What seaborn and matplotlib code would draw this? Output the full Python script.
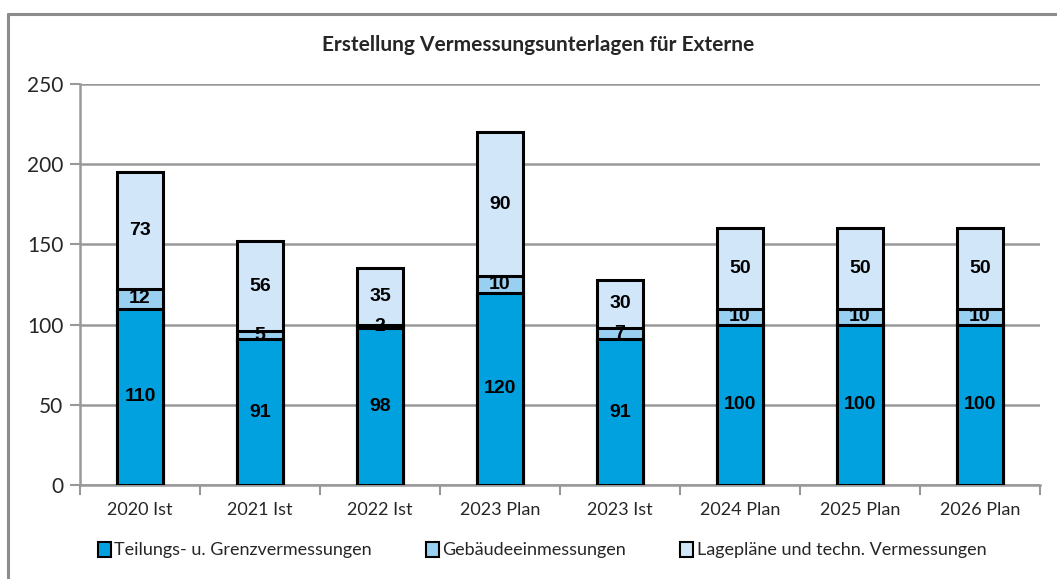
import matplotlib
matplotlib.use("Agg")
import matplotlib.pyplot as plt
import seaborn as sns
import pandas as pd
import numpy as np
from matplotlib.patches import Patch
from matplotlib.lines import Line2D

categories = ["2020 Ist", "2021 Ist", "2022 Ist", "2023 Plan", "2023 Ist", "2024 Plan", "2025 Plan", "2026 Plan"]
teilung = [110, 91, 98, 120, 91, 100, 100, 100]
gebaeude = [12, 5, 2, 10, 7, 10, 10, 10]
lageplaene = [73, 56, 35, 90, 30, 50, 50, 50]
series_names = ["Teilungs- u. Grenzvermessungen", "Gebäudeeinmessungen", "Lagepläne und techn. Vermessungen"]
colors = ["#00A1DE", "#99CFF0", "#D1E7F9"]

sns.set_theme(style="white")
plt.rcParams['font.family'] = ['Lato', 'DejaVu Sans']

df = pd.DataFrame({"cat": categories, "a": teilung, "b": gebaeude, "c": lageplaene})
df["ab"] = df["a"] + df["b"]
df["abc"] = df["ab"] + df["c"]

fig = plt.figure(figsize=(10.57, 5.79), dpi=100)
ax = fig.add_axes([80/1057, 1-485/579, 960/1057, 401/579])

w = 0.39
for col, c in [("abc", colors[2]), ("ab", colors[1]), ("a", colors[0])]:
    sns.barplot(data=df, x="cat", y=col, color=c, width=w, edgecolor="black",
                linewidth=2.2, saturation=1, ax=ax, zorder=3)

ax.set_ylim(0, 250)
ax.set_xlim(-0.5, len(categories)-0.5)
ax.set_yticks([0, 50, 100, 150, 200, 250])
ax.yaxis.grid(True, color="#999999", linewidth=1.8, zorder=0)
ax.set_axisbelow(True)
ax.set_xlabel("")
ax.set_ylabel("")
for s in ["top", "right"]:
    ax.spines[s].set_visible(False)
for s in ["left", "bottom"]:
    ax.spines[s].set_color("#999999")
    ax.spines[s].set_linewidth(1.8)
ax.tick_params(axis="y", which="major", left=True, length=7, width=1.5, color="#999999", labelsize=15, pad=5)
ax.tick_params(axis="x", which="major", bottom=False, labelsize=13, pad=6)
ax.set_xticks(np.arange(-0.5, len(categories)), minor=True)
ax.tick_params(axis="x", which="minor", bottom=True, length=7, width=1.5, color="#999999")

x = np.arange(len(categories))
for i in range(len(categories)):
    a, b, c = teilung[i], gebaeude[i], lageplaene[i]
    kw = dict(ha="center", va="center", fontsize=14, fontweight="bold",
              family="Liberation Sans", color="black", zorder=5)
    ax.text(x[i], a/2, str(a), **kw)
    ax.text(x[i], a + b/2, str(b), **kw)
    ax.text(x[i], a + b + c/2, str(c), **kw)

fig.text(0.509, 1-45/579, "Erstellung Vermessungsunterlagen für Externe", ha="center", va="center",
         fontsize=15, fontweight="bold")

# outer chart border
fig.add_artist(Line2D([8/1057, 8/1057], [0, 1-14/579], transform=fig.transFigure, color="#8c8c8c", lw=2.2))
fig.add_artist(Line2D([8/1057, 1], [1-14/579, 1-14/579], transform=fig.transFigure, color="#8c8c8c", lw=2.2))

handles = [Patch(facecolor=colors[k], edgecolor="black", linewidth=1.5) for k in range(3)]
fig.legend(handles, series_names, loc="center", bbox_to_anchor=(0.513, 1-550/579), ncol=3,
           frameon=False, fontsize=13, handlelength=0.7, handleheight=0.9, handletextpad=0.2,
           columnspacing=3.0)

fig.savefig("out.png", dpi=100)
